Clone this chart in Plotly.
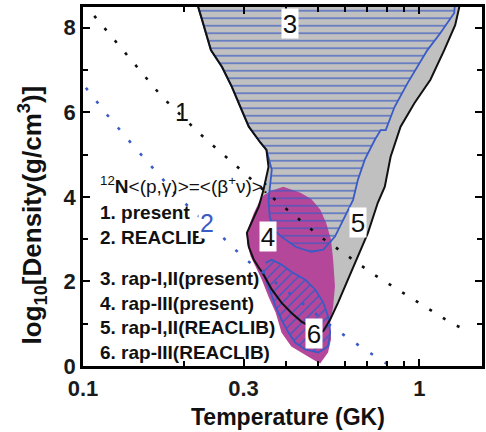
import plotly.graph_objects as go

# ---------------- data (Temperature in GK, log10 density) ----------------
# Region 3: rap-I,II(present)  (grey, black outline)
r3_T = [0.220, 0.220, 0.226, 0.232, 0.240, 0.259, 0.277, 0.296, 0.311, 0.337, 0.351,
        0.356, 0.351, 0.344, 0.333, 0.317, 0.307, 0.311, 0.322, 0.333, 0.340, 0.351,
        0.364, 0.389, 0.416, 0.446, 0.474, 0.507, 0.518, 0.543, 0.573, 0.613, 0.656,
        0.703, 0.752, 0.789, 0.821, 0.879, 0.967, 1.078, 1.185, 1.277, 1.312, 1.321]
r3_rho = [8.63, 8.49, 8.18, 7.87, 7.47, 7.07, 6.60, 6.06, 5.66, 5.28, 5.11,
          4.71, 4.47, 4.17, 3.77, 3.39, 3.15, 2.82, 2.51, 2.33, 2.23, 2.04,
          1.81, 1.50, 1.26, 1.05, 0.93, 0.81, 0.83, 1.10, 1.50, 2.04, 2.59,
          3.15, 3.86, 4.24, 4.95, 5.66, 6.22, 6.77, 7.47, 8.06, 8.47, 8.63]

# Region 4: rap-III(present)  (magenta)
r4_T = [0.333, 0.344, 0.361, 0.394, 0.443, 0.477, 0.507, 0.528, 0.546, 0.554, 0.561,
        0.554, 0.543, 0.546, 0.535, 0.507, 0.484, 0.446, 0.416, 0.389, 0.374, 0.356,
        0.340, 0.326, 0.315, 0.307, 0.311, 0.322]
r4_rho = [3.86, 4.03, 4.14, 4.24, 4.10, 3.95, 3.70, 3.39, 2.99, 2.51, 1.88,
          1.40, 1.03, 0.63, 0.32, 0.06, 0.15, 0.32, 0.46, 0.79, 1.26, 1.64,
          2.04, 2.35, 2.59, 2.92, 3.30, 3.62]

# Region 5: rap-I,II(REACLIB)  (blue outline, horizontal hatch)
r5_T = [0.220, 0.220, 0.226, 0.232, 0.240, 0.259, 0.277, 0.296, 0.311, 0.337, 0.351,
        0.364, 0.361, 0.356, 0.359, 0.369, 0.389, 0.428, 0.477, 0.518, 0.561,
        0.601, 0.635, 0.656, 0.688, 0.737, 0.767, 0.794, 0.844, 0.922, 1.056,
        1.153, 1.269, 1.277]
r5_rho = [8.63, 8.49, 8.18, 7.87, 7.47, 7.07, 6.60, 6.06, 5.66, 5.28, 5.11,
          4.64, 4.33, 3.93, 3.53, 3.22, 3.06, 2.82, 2.70, 2.75, 3.06,
          3.53, 3.93, 4.40, 4.88, 5.35, 5.58, 5.58, 6.13, 6.69, 7.47,
          7.87, 8.35, 8.63]

# Region 6: rap-III(REACLIB)  (blue outline, diagonal hatch)
r6_T = [0.349, 0.364, 0.389, 0.416, 0.458, 0.490, 0.518, 0.535, 0.543, 0.535,
        0.500, 0.458, 0.428, 0.408, 0.389, 0.374, 0.361, 0.349, 0.344]
r6_rho = [2.44, 2.51, 2.40, 2.23, 2.04, 1.81, 1.50, 1.17, 0.79, 0.46,
          0.32, 0.39, 0.55, 0.79, 1.10, 1.40, 1.74, 2.04, 2.28]

# Curve 1: 12N <(p,g)> = <(b+ nu)>  present
l1_T = [0.108, 0.126, 0.147, 0.172, 0.224, 0.271, 0.351, 0.416, 0.507, 0.605,
        0.727, 0.873, 1.049, 1.252, 1.386]
l1_rho = [8.28, 7.64, 7.00, 6.36, 5.47, 4.88, 4.10, 3.62, 3.06, 2.63,
          2.18, 1.78, 1.38, 1.00, 0.84]

# Curve 2: REACLIB
l2_T = [0.102, 0.118, 0.138, 0.161, 0.187, 0.210, 0.250, 0.300, 0.328, 0.565, 0.688, 0.805]
l2_rho = [6.58, 5.94, 5.30, 4.69, 4.10, 3.70, 3.18, 2.56, 2.33, 0.86, 0.39, 0.04]

x_major = [0.1, 0.3, 1]
x_major_text = ["0.1", "0.3", "1"]
x_minor = [0.2, 0.4, 0.5, 0.6, 0.7, 0.8, 0.9]
y_major = [0, 2, 4, 6, 8]
y_minor = [1, 3, 5, 7]

legend_lines = [
    "1. present",
    "2. REACLIB",
    "3. rap-I,II(present)",
    "4. rap-III(present)",
    "5. rap-I,II(REACLIB)",
    "6. rap-III(REACLIB)",
]

# ---------------- styling ----------------
GREY = "#c0c0c0"
MAG = "#b5479b"
BLUE = "#3a5bc4"
FONT = "Liberation Sans, Arial, sans-serif"

fig = go.Figure()

fig.add_trace(go.Scatter(x=r3_T, y=r3_rho, mode="lines", fill="toself",
                         fillcolor=GREY, line=dict(width=0), hoverinfo="skip"))
fig.add_trace(go.Scatter(x=r4_T, y=r4_rho, mode="lines", fill="toself",
                         fillcolor=MAG, line=dict(width=0, color=MAG), hoverinfo="skip"))
fig.add_trace(go.Scatter(x=r5_T, y=r5_rho, mode="lines", fill="toself",
                         fillcolor="rgba(0,0,0,0)",
                         fillpattern=dict(shape="-", fgcolor=BLUE, bgcolor="rgba(0,0,0,0)",
                                          fgopacity=1, size=7.5, solidity=0.16),
                         line=dict(width=1.8, color=BLUE), hoverinfo="skip"))
fig.add_trace(go.Scatter(x=r6_T, y=r6_rho, mode="lines", fill="toself",
                         fillcolor="rgba(0,0,0,0)",
                         fillpattern=dict(shape="/", fgcolor=BLUE, bgcolor="rgba(0,0,0,0)",
                                          fgopacity=1, size=7, solidity=0.2),
                         line=dict(width=1.8, color=BLUE), hoverinfo="skip"))
fig.add_trace(go.Scatter(x=r3_T, y=r3_rho, mode="lines",
                         line=dict(width=2, color="#111111"), hoverinfo="skip"))
fig.add_trace(go.Scatter(x=l1_T, y=l1_rho, mode="lines",
                         line=dict(width=2.6, color="#111111", dash="3px,13px"), hoverinfo="skip"))
fig.add_trace(go.Scatter(x=l2_T, y=l2_rho, mode="lines",
                         line=dict(width=2.6, color=BLUE, dash="3px,14px"), hoverinfo="skip"))

def px_x(p):
    return (p - 83) / 402.0

def px_y(p):
    return (366 - p) / 359.0

ann = []
# legend text block
ann.append(dict(xref="paper", yref="paper", x=px_x(98), y=px_y(185), xanchor="left", yanchor="middle",
                text="<sup>12</sup><b>N</b>&lt;(p,γ)&gt;=&lt;(β<sup>+</sup>ν)&gt;:",
                showarrow=False, font=dict(family=FONT, size=19, color="#111111")))
leg_y = [212, 237, 278, 303, 327, 352]
for t, yy in zip(legend_lines, leg_y):
    ann.append(dict(xref="paper", yref="paper", x=px_x(98), y=px_y(yy), xanchor="left", yanchor="middle",
                    text="<b>" + t + "</b>", showarrow=False,
                    font=dict(family=FONT, size=19, color="#111111")))

# curve labels
ann.append(dict(xref="paper", yref="paper", x=px_x(183), y=px_y(112), xanchor="center", yanchor="middle",
                text="1", showarrow=False,
                font=dict(family=FONT, size=25, color="#111111")))
ann.append(dict(xref="paper", yref="paper", x=px_x(208), y=px_y(223), xanchor="center", yanchor="middle",
                text="2", showarrow=False, bgcolor="white", borderpad=1,
                font=dict(family=FONT, size=25, color=BLUE)))
# region labels with white boxes
for t, (cx, cy) in zip(["3", "4", "5", "6"], [(292, 24), (269.5, 236), (360, 222), (315.5, 333)]):
    ann.append(dict(xref="paper", yref="paper", x=px_x(cx), y=px_y(cy), xanchor="center", yanchor="middle",
                    text=t, showarrow=False,
                    bgcolor="white", borderpad=0, width=16, height=29,
                    font=dict(family=FONT, size=26, color="#111111")))

# axis titles
ann.append(dict(xref="paper", yref="paper", x=px_x(290), y=px_y(417), xanchor="center", yanchor="middle",
                text="<b>Temperature (GK)</b>", showarrow=False,
                font=dict(family=FONT, size=23, color="#111111")))
ann.append(dict(xref="paper", yref="paper", x=px_x(32), y=px_y(215), xanchor="center", yanchor="middle",
                text="<b>log<sub>10</sub>[Density(g/cm<sup>3</sup>)]</b>", showarrow=False, textangle=-90,
                font=dict(family=FONT, size=26, color="#111111")))

axis_common = dict(showline=True, linecolor="black", linewidth=2.5, mirror="allticks",
                   ticks="inside", ticklen=7, tickwidth=2, tickcolor="black",
                   showgrid=False, zeroline=False,
                   tickfont=dict(family=FONT, size=22, color="#1a1a1a", weight="bold"))

fig.update_layout(
    width=486, height=432,
    margin=dict(l=83, r=1, t=7, b=66),
    paper_bgcolor="white", plot_bgcolor="white",
    showlegend=False,
    annotations=ann,
    xaxis=dict(type="log", range=[-1, 0.186], tickmode="array", tickvals=x_major,
               ticktext=x_major_text, ticklabelstandoff=1,
               minor=dict(tickmode="array", tickvals=x_minor, ticks="inside", ticklen=5,
                          tickwidth=1.5, tickcolor="black"),
               **axis_common),
    yaxis=dict(range=[0, 8.49], tickmode="array", tickvals=y_major,
               ticktext=[str(v) for v in y_major], ticklabelstandoff=0,
               minor=dict(tickmode="array", tickvals=y_minor, ticks="inside", ticklen=5,
                          tickwidth=1.5, tickcolor="black"),
               **axis_common),
)

fig.write_html("out.html")
